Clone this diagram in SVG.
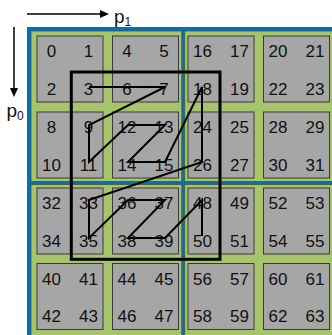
<svg xmlns="http://www.w3.org/2000/svg" width="332" height="335" viewBox="0 0 332 335">
<style>
.q{fill:#A7C36B;stroke:#4a5a2a;stroke-width:0.8}
.b{fill:#A6A6A6;stroke:#3a3a3a;stroke-width:1}
.t{font-family:"Liberation Sans",Arial,sans-serif;font-size:17px;fill:#111;text-anchor:middle}
.lbl{font-family:"Liberation Sans",Arial,sans-serif;fill:#111}
.ax{stroke:#000;stroke-width:1.5;fill:none}
.zz{stroke:#000;stroke-width:2;fill:none;stroke-linejoin:miter}
</style>
<defs>
<g id="cell">
<rect class="b" x="0" y="0" width="66" height="66"/>
</g>
</defs>
<rect x="27" y="27" width="305" height="308" fill="#0070C0"/>
<rect class="q" x="31" y="31" width="150.8" height="150.5"/>
<rect class="q" x="184.7" y="31" width="150" height="150.5"/>
<rect class="q" x="31" y="184.5" width="150.8" height="152"/>
<rect class="q" x="184.7" y="184.5" width="150" height="152"/>
<g id="axes">
<line class="ax" x1="27" y1="14" x2="101" y2="14"/>
<polygon points="100,10 109,14 100,18" fill="#000"/>
<text class="lbl" x="114" y="22.5" font-size="19">p<tspan font-size="12" y="25.5">1</tspan></text>
<line class="ax" x1="14" y1="27" x2="14" y2="89"/>
<polygon points="10,88 14,97 18,88" fill="#000"/>
<text class="lbl" x="6.5" y="116.5" font-size="19">p<tspan font-size="12" y="119.5">0</tspan></text>
</g>
<g id="n0"><use href="#cell" x="37" y="36"/><text class="t" x="51.5" y="57">0</text><text class="t" x="88.5" y="57">1</text><text class="t" x="51.5" y="94.5">2</text><text class="t" x="88.5" y="94.5">3</text></g>
<g id="n1"><use href="#cell" x="112.5" y="36"/><text class="t" x="127" y="57">4</text><text class="t" x="164" y="57">5</text><text class="t" x="127" y="94.5">6</text><text class="t" x="164" y="94.5">7</text></g>
<g id="n2"><use href="#cell" x="188" y="36"/><text class="t" x="202.5" y="57">16</text><text class="t" x="239.5" y="57">17</text><text class="t" x="202.5" y="94.5">18</text><text class="t" x="239.5" y="94.5">19</text></g>
<g id="n3"><use href="#cell" x="263.5" y="36"/><text class="t" x="278" y="57">20</text><text class="t" x="315" y="57">21</text><text class="t" x="278" y="94.5">22</text><text class="t" x="315" y="94.5">23</text></g>
<g id="n4"><use href="#cell" x="37" y="112"/><text class="t" x="51.5" y="133">8</text><text class="t" x="88.5" y="133">9</text><text class="t" x="51.5" y="170.5">10</text><text class="t" x="88.5" y="170.5">11</text></g>
<g id="n5"><use href="#cell" x="112.5" y="112"/><text class="t" x="127" y="133">12</text><text class="t" x="164" y="133">13</text><text class="t" x="127" y="170.5">14</text><text class="t" x="164" y="170.5">15</text></g>
<g id="n6"><use href="#cell" x="188" y="112"/><text class="t" x="202.5" y="133">24</text><text class="t" x="239.5" y="133">25</text><text class="t" x="202.5" y="170.5">26</text><text class="t" x="239.5" y="170.5">27</text></g>
<g id="n7"><use href="#cell" x="263.5" y="112"/><text class="t" x="278" y="133">28</text><text class="t" x="315" y="133">29</text><text class="t" x="278" y="170.5">30</text><text class="t" x="315" y="170.5">31</text></g>
<g id="n8"><use href="#cell" x="37" y="188"/><text class="t" x="51.5" y="209">32</text><text class="t" x="88.5" y="209">33</text><text class="t" x="51.5" y="246.5">34</text><text class="t" x="88.5" y="246.5">35</text></g>
<g id="n9"><use href="#cell" x="112.5" y="188"/><text class="t" x="127" y="209">36</text><text class="t" x="164" y="209">37</text><text class="t" x="127" y="246.5">38</text><text class="t" x="164" y="246.5">39</text></g>
<g id="n10"><use href="#cell" x="188" y="188"/><text class="t" x="202.5" y="209">48</text><text class="t" x="239.5" y="209">49</text><text class="t" x="202.5" y="246.5">50</text><text class="t" x="239.5" y="246.5">51</text></g>
<g id="n11"><use href="#cell" x="263.5" y="188"/><text class="t" x="278" y="209">52</text><text class="t" x="315" y="209">53</text><text class="t" x="278" y="246.5">54</text><text class="t" x="315" y="246.5">55</text></g>
<g id="n12"><use href="#cell" x="37" y="263.5"/><text class="t" x="51.5" y="284.5">40</text><text class="t" x="88.5" y="284.5">41</text><text class="t" x="51.5" y="322">42</text><text class="t" x="88.5" y="322">43</text></g>
<g id="n13"><use href="#cell" x="112.5" y="263.5"/><text class="t" x="127" y="284.5">44</text><text class="t" x="164" y="284.5">45</text><text class="t" x="127" y="322">46</text><text class="t" x="164" y="322">47</text></g>
<g id="n14"><use href="#cell" x="188" y="263.5"/><text class="t" x="202.5" y="284.5">56</text><text class="t" x="239.5" y="284.5">57</text><text class="t" x="202.5" y="322">58</text><text class="t" x="239.5" y="322">59</text></g>
<g id="n15"><use href="#cell" x="263.5" y="263.5"/><text class="t" x="278" y="284.5">60</text><text class="t" x="315" y="284.5">61</text><text class="t" x="278" y="322">62</text><text class="t" x="315" y="322">63</text></g>
<g id="window">
<rect x="71.3" y="72" width="148.7" height="187.3" fill="none" stroke="#000" stroke-width="3"/>
</g>
<g id="connectors">
<polyline class="zz" points="89,87 165,87 89,125 89,162 128,125 165,125 128,162 165,162 202,87 202,162 89,200 89,238 128,200 165,200 128,238 165,238 202,200 202,236"/>
</g>
</svg>
